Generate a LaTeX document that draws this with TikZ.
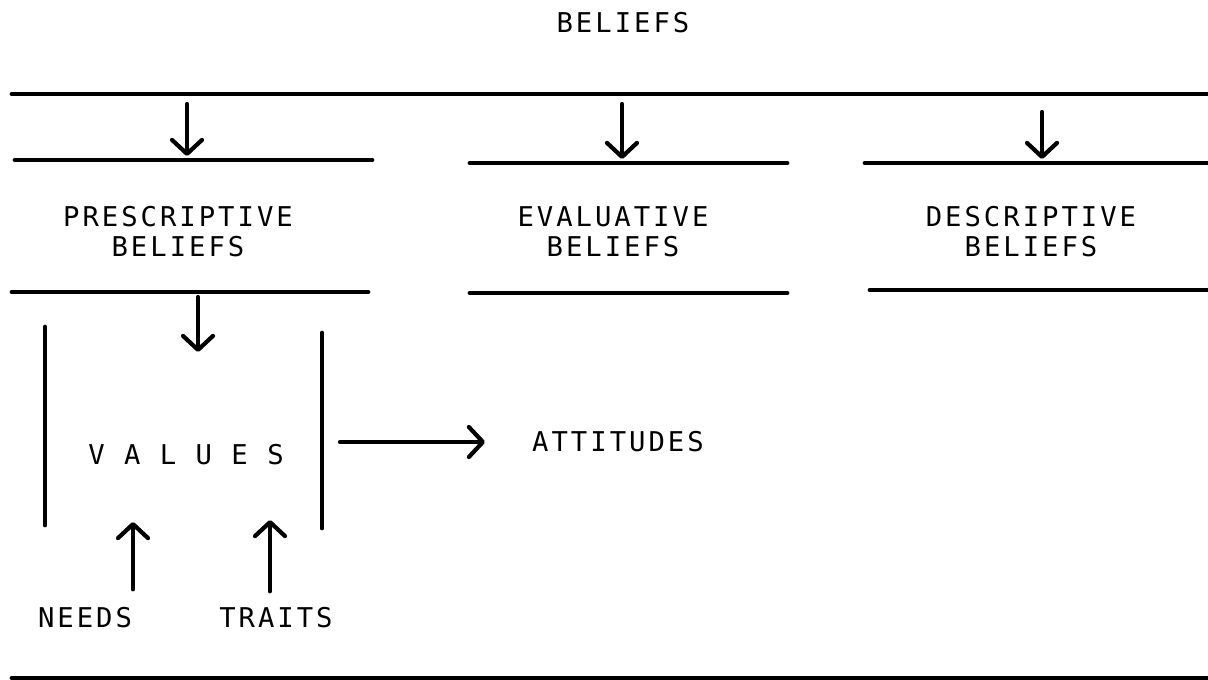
\documentclass[tikz,border=0pt]{standalone}
\usepackage{fontspec}
\setmonofont{DejaVu Sans Mono}[LetterSpace=11]
\usetikzlibrary{arrows.meta}
\begin{document}
\begin{tikzpicture}[x=0.02cm,y=-0.02cm,
				every node/.style={font=\ttfamily\fontsize{15.5}{17}\selectfont,align=center,inner sep=0pt},
				rule/.style={line width=2.8pt,line cap=round},
				flow/.style={line width=2.4pt,line cap=round,-{Straight Barb[length=2.8mm,width=6mm,round]}}]
\useasboundingbox (0,0) rectangle (1208,680);
\node (beliefs) at (623,23) {BELIEFS};
\node (presc) at (178,232) {PRESCRIPTIVE\\BELIEFS};
\node (evalu) at (613,232) {EVALUATIVE\\BELIEFS};
\node (descr) at (1031,232) {DESCRIPTIVE\\BELIEFS};
\node (values) at (186,455) {V A L U E S};
\node (attitudes) at (618,442) {ATTITUDES};
\node (needs) at (85,618) {NEEDS};
\node (traits) at (276,618) {TRAITS};
\draw[rule] (12,94) -- (1208,94);
\draw[rule] (15,160) -- (372,160);
\draw[rule] (12,292) -- (368,292);
\draw[rule] (470,163) -- (787,163);
\draw[rule] (470,293) -- (787,293);
\draw[rule] (865,163) -- (1208,163);
\draw[rule] (870,290) -- (1208,290);
\draw[rule] (45,327) -- (45,525);
\draw[rule] (322,333) -- (322,528);
\draw[rule] (12,678) -- (1208,678);
\coordinate (presc in) at (187,104);
\coordinate (presc top) at (187,156);
\coordinate (evalu in) at (622,104);
\coordinate (evalu top) at (622,159);
\coordinate (descr in) at (1042,112);
\coordinate (descr top) at (1042,159);
\coordinate (presc out) at (198,297);
\coordinate (values top) at (198,352);
\coordinate (values right) at (340,442);
\coordinate (values needs) at (133,522);
\coordinate (values traits) at (270,520);
\draw[flow] (presc in) -- (presc top);
\draw[flow] (evalu in) -- (evalu top);
\draw[flow] (descr in) -- (descr top);
\draw[flow] (presc out) -- (values top);
\draw[flow] (values right) -- (attitudes.west -| 485,0);
\draw[flow] (needs.north -| values needs) ++(0,-18) -- (values needs);
\draw[flow] (traits.north -| values traits) ++(0,-16) -- (values traits);
\end{tikzpicture}
\end{document}
